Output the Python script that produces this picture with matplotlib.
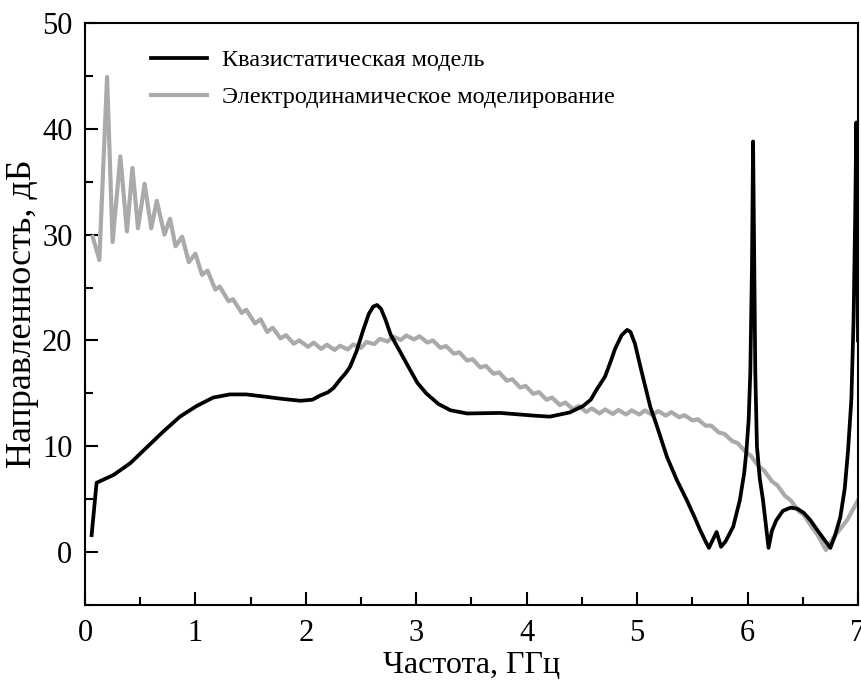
import numpy as np
import matplotlib.pyplot as plt
from matplotlib.ticker import MultipleLocator

plt.rcParams['font.family'] = ['Liberation Serif', 'DejaVu Serif']

# квазистатическая модель
quasi_f = [0.06, 0.105, 0.26, 0.41, 0.56, 0.71, 0.86, 1.01, 1.16, 1.31, 1.46, 1.62,
           1.77, 1.95, 2.06, 2.13, 2.20, 2.25, 2.31, 2.36, 2.40, 2.46, 2.52, 2.57,
           2.61, 2.645, 2.68, 2.72, 2.77, 2.85, 2.94, 3.01, 3.09, 3.20, 3.31, 3.46,
           3.76, 4.06, 4.21, 4.39, 4.51, 4.58, 4.63, 4.71, 4.76, 4.80, 4.86, 4.91,
           4.94, 4.98, 5.03, 5.07, 5.12, 5.17, 5.22, 5.27, 5.36, 5.45, 5.52, 5.57,
           5.62, 5.65, 5.72, 5.76, 5.80, 5.87, 5.93, 5.97, 5.99, 6.01, 6.025, 6.04,
           6.05, 6.06, 6.07, 6.085, 6.11, 6.14, 6.19, 6.22, 6.26, 6.32, 6.39, 6.45,
           6.51, 6.57, 6.63, 6.70, 6.75, 6.79, 6.84, 6.88, 6.91, 6.94, 6.96, 6.975,
           6.985, 6.995, 7.0]
quasi_d = [1.6, 6.55, 7.3, 8.4, 9.9, 11.4, 12.8, 13.8, 14.6, 14.9, 14.9, 14.7,
           14.5, 14.3, 14.4, 14.8, 15.1, 15.5, 16.3, 16.9, 17.5, 19.0, 21.0, 22.5,
           23.2, 23.35, 23.0, 22.0, 20.5, 19.0, 17.3, 16.0, 15.0, 14.0, 13.4, 13.1,
           13.15, 12.9, 12.8, 13.2, 13.8, 14.4, 15.3, 16.6, 18.0, 19.2, 20.5, 21.0,
           20.8, 19.7, 17.5, 15.8, 13.7, 12.2, 10.6, 9.0, 6.8, 4.9, 3.3, 2.1,
           1.0, 0.4, 1.9, 0.5, 1.0, 2.4, 4.9, 7.5, 9.6, 12.5, 17.0, 27.0,
           38.8, 28.0, 17.0, 10.0, 7.0, 4.9, 0.4, 2.0, 3.0, 3.9, 4.2, 4.1,
           3.7, 3.0, 2.1, 1.1, 0.4, 1.5, 3.3, 6.0, 9.6, 14.4, 22.0, 32.0,
           40.6, 30.0, 20.0]

# электродинамическое моделирование
em_f = [0.07, 0.13, 0.20, 0.25, 0.32, 0.38, 0.43, 0.48, 0.54, 0.60, 0.65, 0.72,
        0.77, 0.82, 0.88, 0.94, 1.00, 1.06, 1.11, 1.18, 1.22, 1.30, 1.34, 1.42,
        1.46, 1.54, 1.59, 1.65, 1.70, 1.77, 1.82, 1.89, 1.94, 2.02, 2.07, 2.14,
        2.19, 2.26, 2.31, 2.38, 2.43, 2.50, 2.55, 2.62, 2.67, 2.74, 2.79, 2.86,
        2.91, 2.98, 3.03, 3.10, 3.15, 3.22, 3.27, 3.34, 3.39, 3.46, 3.51, 3.58,
        3.63, 3.70, 3.75, 3.82, 3.87, 3.94, 3.99, 4.06, 4.11, 4.18, 4.23, 4.30,
        4.35, 4.42, 4.47, 4.54, 4.59, 4.66, 4.71, 4.78, 4.83, 4.90, 4.95, 5.02,
        5.07, 5.14, 5.19, 5.26, 5.31, 5.38, 5.43, 5.50, 5.55, 5.62, 5.67, 5.74,
        5.79, 5.86, 5.91, 5.98, 6.03, 6.10, 6.15, 6.22, 6.27, 6.34, 6.39, 6.46,
        6.51, 6.58, 6.63, 6.71, 6.78, 6.90, 7.00]
em_d = [29.8, 27.6, 44.9, 29.3, 37.4, 30.3, 36.3, 30.6, 34.8, 30.6, 33.2, 30.0,
        31.5, 28.9, 29.8, 27.4, 28.2, 26.2, 26.6, 24.8, 25.1, 23.7, 23.9, 22.6,
        22.9, 21.6, 22.0, 20.8, 21.2, 20.2, 20.5, 19.7, 20.0, 19.4, 19.8, 19.2,
        19.6, 19.1, 19.5, 19.15, 19.62, 19.3, 19.85, 19.65, 20.15, 19.9, 20.36, 20.05,
        20.47, 20.1, 20.4, 19.8, 20.0, 19.3, 19.47, 18.75, 18.88, 18.1, 18.23, 17.45,
        17.6, 16.85, 16.98, 16.2, 16.33, 15.55, 15.7, 14.95, 15.12, 14.4, 14.6, 13.9,
        14.13, 13.5, 13.8, 13.25, 13.58, 13.1, 13.48, 13.05, 13.43, 13.0, 13.4, 13.0,
        13.38, 12.95, 13.33, 12.9, 13.22, 12.75, 12.93, 12.45, 12.55, 11.95, 11.95, 11.3,
        11.17, 10.5, 10.3, 9.5, 9.1, 8.1, 7.7, 6.7, 6.3, 5.3, 4.9, 3.9,
        3.5, 2.4, 1.7, 0.2, 1.4, 3.0, 4.9]

fig = plt.figure(figsize=(8.61, 6.82), dpi=100)
ax = fig.add_axes([0.0987, 0.1129, 0.8978, 0.8534])

ax.plot(quasi_f, quasi_d, color='black', lw=2.7, label='Квазистатическая модель',
        solid_joinstyle='round', zorder=3)
ax.plot(em_f, em_d, color='#aaaaaa', lw=3.0, label='Электродинамическое моделирование',
        solid_joinstyle='round', zorder=2)

ax.set_xlim(0, 7)
ax.set_ylim(-5, 50)
ax.xaxis.set_major_locator(MultipleLocator(1))
ax.xaxis.set_minor_locator(MultipleLocator(0.5))
ax.yaxis.set_major_locator(MultipleLocator(10))
ax.yaxis.set_minor_locator(MultipleLocator(5))
ax.tick_params(which='both', direction='in', width=1.5, labelsize=22,
               top=False, right=False)
ax.tick_params(axis='x', pad=10)
ax.tick_params(axis='y', pad=9)
ax.tick_params(which='major', length=9.5)
ax.tick_params(which='minor', length=5.5)
for s in ax.spines.values():
    s.set_linewidth(1.5)

ax.set_xlabel('Частота, ГГц', fontsize=23, labelpad=2)
ax.set_ylabel('Направленность, дБ', fontsize=26, labelpad=2)

ax.legend(loc='upper left', bbox_to_anchor=(0.085, 0.955), frameon=False,
          fontsize=17.5, handlelength=2.3, handletextpad=0.65, labelspacing=0.62,
          borderaxespad=0, borderpad=0)

fig.savefig('out.png', dpi=100)
